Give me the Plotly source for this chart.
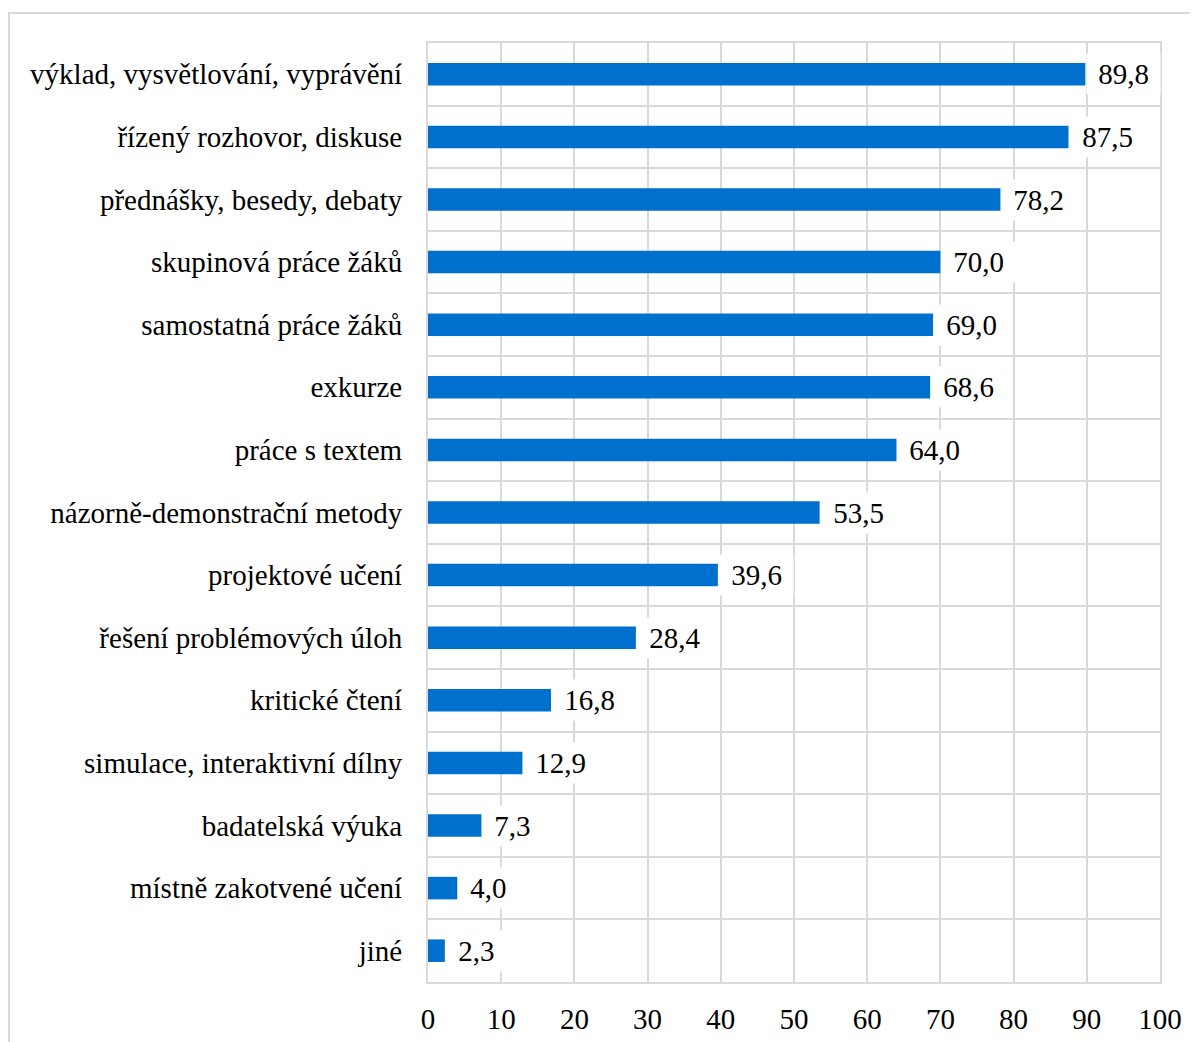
import plotly.graph_objects as go

categories = [
    "výklad, vysvětlování, vyprávění",
    "řízený rozhovor, diskuse",
    "přednášky, besedy, debaty",
    "skupinová práce žáků",
    "samostatná práce žáků",
    "exkurze",
    "práce s textem",
    "názorně-demonstrační metody",
    "projektové učení",
    "řešení problémových úloh",
    "kritické čtení",
    "simulace, interaktivní dílny",
    "badatelská výuka",
    "místně zakotvené učení",
    "jiné",
]
values = [89.8, 87.5, 78.2, 70.0, 69.0, 68.6, 64.0, 53.5, 39.6, 28.4, 16.8, 12.9, 7.3, 4.0, 2.3]
x_ticks = [0, 10, 20, 30, 40, 50, 60, 70, 80, 90, 100]

FONT = "'Liberation Serif'"
FS = 29
GRID = "#d9d9d9"

fig = go.Figure()
fig.add_trace(go.Bar(
    x=values, y=categories, orientation="h",
    marker=dict(color="#0070CE", line=dict(width=0)),
    width=0.36,
))

for c, v in zip(categories, values):
    fig.add_annotation(
        x=v, y=c, xref="x", yref="y",
        text=" " + f"{v:.1f}".replace(".", ",") + " ",
        showarrow=False, xanchor="left", yanchor="middle",
        xshift=1, bgcolor="white", borderpad=4,
        font=dict(family=FONT, size=FS, color="black"),
    )

# outer chart border
fig.add_shape(type="rect", xref="paper", yref="paper",
              x0=-0.5724, x1=1.08, y0=-0.2, y1=1.032,
              line=dict(color=GRID, width=2), layer="below")

fig.update_layout(
    width=1190, height=1034,
    margin=dict(l=420, r=38, t=35, b=60),
    paper_bgcolor="white", plot_bgcolor="white",
    showlegend=False,
    font=dict(family=FONT, size=FS, color="black"),
)
fig.update_xaxes(
    range=[0, 100], tickvals=x_ticks, ticktext=[str(t) for t in x_ticks],
    showgrid=True, gridcolor=GRID, gridwidth=2,
    zeroline=False, showline=True, linecolor=GRID, linewidth=2, mirror=True,
    ticks="", ticklabelstandoff=10, automargin=False,
    tickfont=dict(family=FONT, size=FS, color="black"),
)
fig.update_yaxes(
    autorange="reversed", tickson="boundaries",
    showgrid=True, gridcolor=GRID, gridwidth=2,
    showline=True, linecolor=GRID, linewidth=2, mirror=True,
    ticks="", ticklabelstandoff=18, automargin=False,
    tickfont=dict(family=FONT, size=FS, color="black"),
)

fig.write_html("out.html")
